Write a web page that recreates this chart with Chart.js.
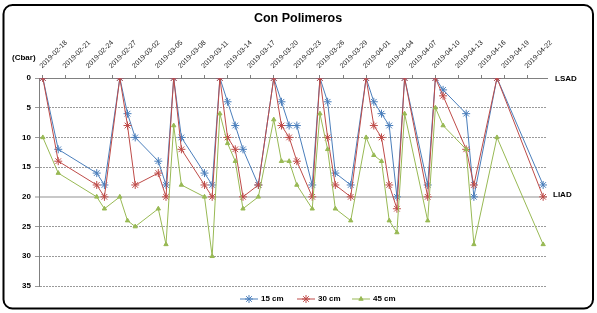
<!DOCTYPE html>
<html>
<head>
<meta charset="utf-8">
<title>Con Polimeros</title>
<script src="https://cdn.jsdelivr.net/npm/chart.js@4"></script>
<style>
  html, body { margin: 0; padding: 0; background: #fff; }
  #wrap { width: 597px; height: 313px; }
</style>
</head>
<body>
<div id="wrap"><canvas id="chart" width="597" height="313"></canvas></div>
<script>
// =======================
// Data (Cbar readings)
const readDates = ['2019-02-18','2019-02-20','2019-02-25','2019-02-26','2019-02-28','2019-03-01','2019-03-02','2019-03-05','2019-03-06','2019-03-07',
                   '2019-03-08','2019-03-11','2019-03-12','2019-03-13','2019-03-14','2019-03-15','2019-03-16','2019-03-18','2019-03-20','2019-03-21',
                   '2019-03-22','2019-03-23','2019-03-25','2019-03-26','2019-03-27','2019-03-28','2019-03-30','2019-04-01','2019-04-02','2019-04-03',
                   '2019-04-04','2019-04-05','2019-04-06','2019-04-09','2019-04-10','2019-04-11','2019-04-14','2019-04-15','2019-04-18','2019-04-24'];
const cm15 = [0,12,16,18,0,6,10,14,18,0, 10,16,18,0,4,8,12,18,0,4, 8,8,18,0,4,16,18,0,4,6, 8,20,0,18,0,2,6,20,0,18];
const cm30 = [0,14,18,20,0,8,18,16,20,0, 12,18,20,0,10,12,20,18,0,8, 10,14,20,0,10,18,20,0,8,10, 18,22,0,20,0,3,12,18,0,20];
const cm45 = [10,16,20,22,20,24,25,22,28,8, 18,20,30,6,11,14,22,20,7,14, 14,18,22,6,12,22,24,10,13,14, 24,26,6,24,5,8,12,28,10,28];

const tickLabels = ['2019-02-18','2019-02-21','2019-02-24','2019-02-27','2019-03-02','2019-03-05','2019-03-08','2019-03-11','2019-03-14','2019-03-17','2019-03-20',
                    '2019-03-23','2019-03-26','2019-03-29','2019-04-01','2019-04-04','2019-04-07','2019-04-10','2019-04-13','2019-04-16','2019-04-19','2019-04-22'];
const seriesNames = ['15 cm','30 cm','45 cm'];
const seriesColors = ['#4a7ebb','#be4b48','#98b954'];
const LSAD = 0;
const LIAD = 20;

// =======================
// Helpers
const startDate = Date.UTC(2019,1,18);
function dayOf(s) {
  const p = s.split('-').map(Number);
  return Math.round((Date.UTC(p[0],p[1]-1,p[2]) - startDate) / 86400000);
}
function toPoints(vals) {
  return readDates.map((d,i) => ({x: dayOf(d), y: vals[i]}));
}

Chart.defaults.font.family = "'Liberation Sans', Arial, sans-serif";
Chart.defaults.color = '#000';

// =======================
// Frame, title, side labels and legend
const decorations = {
  id: 'decorations',
  afterDraw(chart) {
    const ctx = chart.ctx;
    const y = chart.scales.y;
    ctx.save();
    // rounded frame
    ctx.strokeStyle = '#000';
    ctx.lineWidth = 2;
    ctx.beginPath();
    ctx.roundRect(3.5, 5, 589.5, 303.5, 9);
    ctx.stroke();

    ctx.fillStyle = '#000';
    ctx.textBaseline = 'middle';
    ctx.textAlign = 'center';
    ctx.font = "bold 12.5px 'Liberation Sans', Arial, sans-serif";
    ctx.fillText('Con Polimeros', 298, 19);

    ctx.textAlign = 'left';
    ctx.font = "bold 8px 'Liberation Sans', Arial, sans-serif";
    ctx.fillText('(Cbar)', 12, 58);
    ctx.fillText('LSAD', 555, y.getPixelForValue(LSAD) + 1);
    ctx.fillText('LIAD', 553, y.getPixelForValue(LIAD) - 2);

    // legend: line + marker + name
    const legendX = [240, 297, 352];
    const ly = 299;
    chart.data.datasets.forEach((ds,i) => {
      const x0 = legendX[i];
      ctx.strokeStyle = ds.borderColor;
      ctx.fillStyle = ds.pointBackgroundColor;
      ctx.lineWidth = 1;
      ctx.beginPath();
      ctx.moveTo(x0, ly);
      ctx.lineTo(x0 + 18, ly);
      ctx.stroke();
      Chart.helpers.drawPoint(ctx, {pointStyle: ds.pointStyle, radius: ds.pointRadius, borderWidth: 1, rotation: 0}, x0 + 9, ly);
      ctx.fillStyle = '#000';
      ctx.fillText(ds.label, x0 + 21, ly);
    });
    ctx.restore();
  }
};

// =======================
// Chart
function makeSet(i, vals, style, radius) {
  return {
    label: seriesNames[i],
    data: toPoints(vals),
    borderColor: seriesColors[i],
    backgroundColor: seriesColors[i],
    pointBackgroundColor: seriesColors[i],
    pointBorderColor: seriesColors[i],
    pointStyle: style,
    pointRadius: radius,
    pointBorderWidth: 1,
    borderWidth: 1,
    tension: 0,
    order: 3 - i
  };
}

new Chart(document.getElementById('chart'), {
  type: 'line',
  data: {
    datasets: [
      makeSet(0, cm15, 'star', 4),
      makeSet(1, cm30, 'star', 4),
      makeSet(2, cm45, 'triangle', 2.5)
    ]
  },
  options: {
    responsive: false,
    animation: false,
    devicePixelRatio: 1,
    layout: { padding: { left: 0, top: 0, right: 50, bottom: 27 } },
    plugins: { legend: { display: false }, tooltip: { enabled: false } },
    scales: {
      x: {
        type: 'linear',
        position: 'top',
        min: -0.5,
        max: 65.5,
        afterBuildTicks: s => { s.ticks = tickLabels.map(t => ({value: dayOf(t)})); },
        afterFit: s => { s.height = 78; },
        ticks: {
          autoSkip: false,
          minRotation: 45,
          maxRotation: 45,
          padding: 5,
          labelOffset: 4,
          font: { size: 7 },
          color: '#222',
          callback: v => { const t = tickLabels.find(l => dayOf(l) === v); return t || ''; }
        },
        grid: { drawOnChartArea: false, tickLength: 3, color: '#808080' },
        border: { color: '#808080', dash: [2,1] }
      },
      y: {
        reverse: true,
        min: 0,
        max: 35,
        afterFit: s => { s.width = 39; },
        ticks: { stepSize: 5, padding: 4, font: { size: 8, weight: 'bold' }, color: '#000' },
        grid: {
          tickLength: 4,
          color: c => (c.tick && c.tick.value === LIAD) ? '#c8c8c8' : '#9a9a9a',
          lineWidth: c => (c.tick && c.tick.value === LIAD) ? 2 : 1
        },
        border: {
          color: '#808080',
          dash: c => (c.tick && c.tick.value === LIAD) ? [] : [2,1]
        }
      }
    }
  },
  plugins: [decorations]
});
</script>
</body>
</html>
